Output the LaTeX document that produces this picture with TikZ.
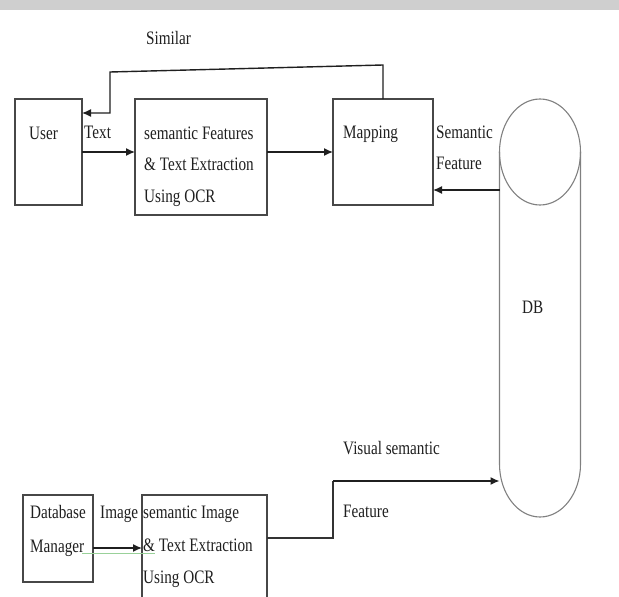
\documentclass[tikz,border=0pt]{standalone}
\usepackage{fontspec}
\setmainfont{Liberation Serif}[FakeStretch=0.8]
\usetikzlibrary{arrows.meta,calc}
\begin{document}
\begin{tikzpicture}[x=1pt,y=-1pt,
  box/.style={draw=black!72,line width=1.1pt,inner sep=0pt,outer sep=0pt,anchor=north west},
  lbl/.style={anchor=base west,inner sep=0pt,text=black!88,font=\fontsize{19}{20}\selectfont},
  arr/.style={draw=black!88,line width=1.4pt,-{Latex[length=9pt,width=8pt]}},
  conn/.style={draw=black!80,line width=1.2pt},
  dbline/.style={draw=black!50,line width=1.1pt}]
\useasboundingbox (0,0) rectangle (619,597);
\fill[gray!38] (0,0) rectangle (619,10);
% boxes
\node[box,minimum width=67pt,minimum height=106pt] (user) at (15,99) {};
\node[box,minimum width=132pt,minimum height=116pt] (sf) at (135,99) {};
\node[box,minimum width=100pt,minimum height=106pt] (map) at (333,99) {};
\node[box,minimum width=70pt,minimum height=87pt] (dm) at (23,495) {};
\node[box,minimum width=125pt,minimum height=110pt] (sit) at (142,495) {};
% DB cylinder
\coordinate (dbc) at (540,152);
\coordinate (dbl) at (499.5,152);
\coordinate (dbr) at (580.5,152);
\coordinate (dbbl) at (499.5,464);
\coordinate (dbbr) at (580.5,464);
\draw[dbline] (dbc) ellipse [x radius=40.5pt,y radius=53pt];
\draw[dbline] (dbl) -- (dbbl) arc[start angle=180,end angle=360,x radius=40.5pt,y radius=53pt] -- (dbr);
\coordinate (dbin) at (499.5,190);
\coordinate (dbvis) at (499.5,481);
% labels
\node[lbl] (tsimilar) at (146,45) {Similar};
\node[lbl] (tuser) at (29,139) {User};
\node[lbl] (ttext) at (84,138) {Text};
\node[lbl] (sf1) at (144,139) {semantic Features};
\node[lbl] (sf2) at (144,170) {\& Text Extraction};
\node[lbl] (sf3) at (144,202) {Using OCR};
\node[lbl] (tmap) at (343,138) {Mapping};
\node[lbl] (tsem) at (436,138) {Semantic};
\node[lbl] (tfeat) at (436,169) {Feature};
\node[lbl] (tdb) at (522,313) {DB};
\node[lbl] (tdm1) at (30,518) {Database};
\node[lbl] (tdm2) at (30,552) {Manager};
\node[lbl] (timage) at (100,518) {Image};
\node[lbl] (sit1) at (143,518) {semantic Image};
\node[lbl] (sit2) at (143,551) {\& Text Extraction};
\node[lbl] (sit3) at (143,583) {Using OCR};
\node[lbl] (tvis) at (343,454) {Visual semantic};
\node[lbl] (tvisf) at (343,517) {Feature};
% connectors
\draw[arr] (user.east) -- (user.east -| sf.west);
\draw[arr] (user.east -| sf.east) -- (map.west);
\draw[arr] (dbin) -- (dbin -| map.east);
\draw[arr] (map.north) -- ++(0,-34) -- (110,72) -- (110,113) -- ($(user.north east)+(0,14)$);
\draw[green!55!black!40,line width=1pt] (82,553) -- (155,553);
\draw[arr] ($(dm.north east)+(0,53)$) -- ($(sit.north west)+(0,53)$);
\draw[conn] ($(sit.north east)+(0,43)$) -- (333,538) -- (333,481);
\draw[arr] (333,481) -- (dbvis);
\end{tikzpicture}
\end{document}
